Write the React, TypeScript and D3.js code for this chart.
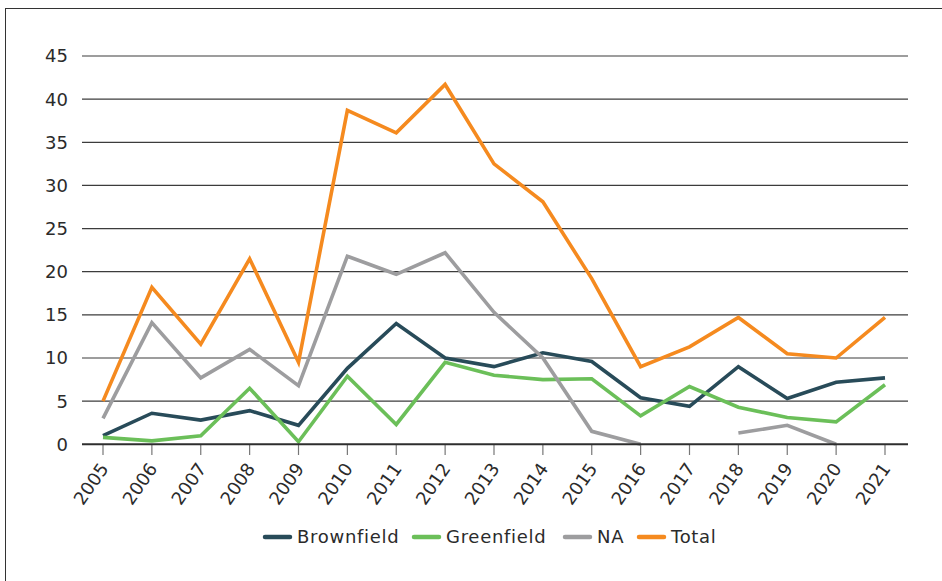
import * as d3 from "d3"

const years = ["2005", "2006", "2007", "2008", "2009", "2010", "2011", "2012", "2013", "2014", "2015", "2016", "2017", "2018", "2019", "2020", "2021"]

const brownfield = [1.0, 3.6, 2.8, 3.9, 2.2, 8.8, 14.0, 10.0, 9.0, 10.6, 9.6, 5.4, 4.4, 9.0, 5.3, 7.2, 7.7]
const greenfield = [0.8, 0.4, 1.0, 6.5, 0.3, 7.9, 2.3, 9.5, 8.0, 7.5, 7.6, 3.3, 6.7, 4.3, 3.1, 2.6, 6.9]
const na = [3.0, 14.1, 7.7, 11.0, 6.8, 21.8, 19.7, 22.2, 15.3, 10.0, 1.5, 0, null, 1.3, 2.2, 0, null]
const total = [5.0, 18.2, 11.6, 21.5, 9.5, 38.7, 36.1, 41.7, 32.5, 28.1, 19.2, 9.0, 11.3, 14.7, 10.5, 10.0, 14.7]

const yTicks = [0, 5, 10, 15, 20, 25, 30, 35, 40, 45]

const series = [
  { name: "Brownfield", values: brownfield, color: "#284b59" },
  { name: "Greenfield", values: greenfield, color: "#6bbf59" },
  { name: "NA", values: na, color: "#9d9d9f" },
  { name: "Total", values: total, color: "#f58a1f" },
]

// legend item x positions (swatch start)
const legendX = [265, 414, 565, 639]

export default function App() {
  const width = 942
  const height = 581
  const plotLeft = 82
  const plotRight = 908

  const x = d3.scalePoint().domain(years).range([103, 885])
  const y = d3.scaleLinear().domain([0, 45]).range([444.3, 56])

  const line = d3
    .line<number | null>()
    .defined((d) => d !== null)
    .x((_, i) => x(years[i]) as number)
    .y((d) => y(d as number))

  const font = "'DejaVu Sans', sans-serif"

  return (
    <svg
      width={width}
      height={height}
      style={{ position: "absolute", left: 0, top: 0, background: "#fff" }}
    >
      {/* outer frame */}
      <rect x={5.5} y={8.5} width={width} height={height} fill="none" stroke="#333" strokeWidth={1} />

      {/* gridlines */}
      {yTicks.slice(1).map((t) => (
        <line key={t} x1={plotLeft} x2={plotRight} y1={y(t)} y2={y(t)} stroke="#3c3c3c" strokeWidth={1.2} />
      ))}

      {/* y labels */}
      {yTicks.map((t) => (
        <text
          key={t}
          x={68}
          y={y(t)}
          dy="0.36em"
          textAnchor="end"
          fontFamily={font}
          fontSize={18}
          fill="#2b2b2b"
        >
          {t}
        </text>
      ))}

      {/* x ticks + labels */}
      {years.map((yr) => (
        <g key={yr}>
          <line x1={x(yr)} x2={x(yr)} y1={444} y2={455} stroke="#777" strokeWidth={1.2} />
          <text
            transform={`translate(${(x(yr) as number) + 1},${465}) rotate(-55)`}
            dy="0.36em"
            textAnchor="end"
            fontFamily={font}
            fontSize={18}
            fill="#2b2b2b"
          >
            {yr}
          </text>
        </g>
      ))}

      {/* series */}
      {series.map((s) => (
        <path
          key={s.name}
          d={line(s.values) || ""}
          fill="none"
          stroke={s.color}
          strokeWidth={3.6}
          strokeLinejoin="miter"
        />
      ))}

      {/* zero axis */}
      <line x1={plotLeft} x2={plotRight} y1={y(0)} y2={y(0)} stroke="#2e2e2e" strokeWidth={2} />

      {/* legend */}
      {series.map((s, i) => (
        <g key={s.name} transform={`translate(${legendX[i]},537)`}>
          <line x1={0} x2={25} y1={0} y2={0} stroke={s.color} strokeWidth={4.5} strokeLinecap="round" />
          <text
            x={32}
            y={0}
            dy="0.36em"
            fontFamily={font}
            fontSize={18}
            letterSpacing={0.7}
            fill="#2b2b2b"
          >
            {s.name}
          </text>
        </g>
      ))}
    </svg>
  )
}
